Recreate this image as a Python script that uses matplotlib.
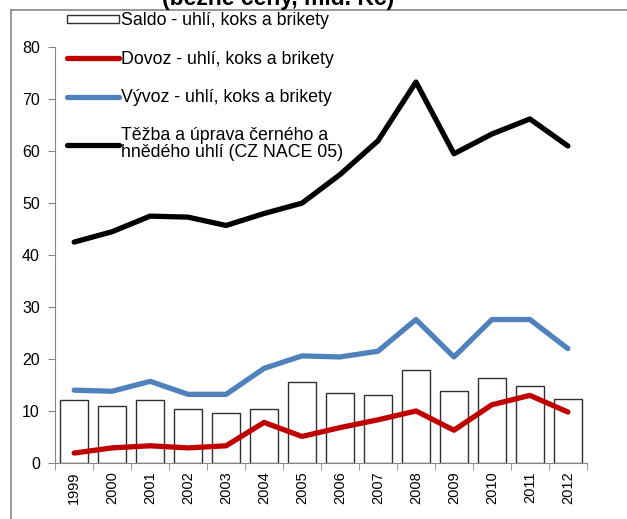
import numpy as np
import matplotlib.pyplot as plt
from matplotlib.lines import Line2D

plt.rcParams['font.family'] = ['Liberation Sans', 'DejaVu Sans']

# data
roky = ['1999', '2000', '2001', '2002', '2003', '2004', '2005', '2006',
        '2007', '2008', '2009', '2010', '2011', '2012']
saldo = [12.1, 10.9, 12.1, 10.4, 9.7, 10.4, 15.6, 13.4, 13.1, 17.8, 13.9, 16.3, 14.9, 12.4]
dovoz = [1.9, 2.9, 3.3, 2.9, 3.3, 7.8, 5.1, 6.8, 8.3, 10.0, 6.3, 11.2, 13.0, 9.8]
vyvoz = [14.0, 13.8, 15.7, 13.2, 13.2, 18.2, 20.6, 20.4, 21.5, 27.6, 20.4, 27.6, 27.6, 22.0]
tezba = [42.5, 44.5, 47.5, 47.3, 45.7, 48.0, 50.0, 55.5, 62.0, 73.3, 59.5, 63.3, 66.2, 61.0]

x = np.arange(len(roky))

fig = plt.figure(figsize=(6.27, 5.19), dpi=100)
ax = fig.add_axes([0.088, 0.108, 0.848, 0.801])

b = ax.bar(x, saldo, width=0.72, color='white', edgecolor='#303030', linewidth=1.0,
           label='Saldo - uhlí, koks a brikety', zorder=1)
l1, = ax.plot(x, dovoz, color='#c00000', lw=3.8, solid_capstyle='round',
              label='Dovoz - uhlí, koks a brikety', zorder=3)
l2, = ax.plot(x, vyvoz, color='#4f81bd', lw=3.8, solid_capstyle='round',
              label='Vývoz - uhlí, koks a brikety', zorder=3)
l3, = ax.plot(x, tezba, color='black', lw=3.8, solid_capstyle='round',
              label='Těžba a úprava černého a\nhnědého uhlí (CZ NACE 05)', zorder=3)

ax.set_xlim(-0.5, len(roky) - 0.5)
ax.set_ylim(0, 80)
ax.set_yticks(range(0, 81, 10))
ax.set_xticks(x)
ax.set_xticklabels(roky, rotation=90, fontsize=10.5)
ax.set_xticks(np.arange(-0.5, len(roky)), minor=True)
ax.tick_params(axis='x', which='major', length=0, pad=6)
ax.tick_params(axis='x', which='minor', length=5, color='#868686', direction='out')
ax.tick_params(axis='y', length=5, color='#868686', direction='out', labelsize=11.5, pad=6)

for s in ['top', 'right']:
    ax.spines[s].set_visible(False)
for s in ['left', 'bottom']:
    ax.spines[s].set_color('#868686')

leg = fig.legend([b, l1, l2, l3], [b.get_label(), l1.get_label(), l2.get_label(), l3.get_label()],
                 loc='upper left', bbox_to_anchor=(0.095, 0.99), frameon=False,
                 fontsize=12.8, handlelength=2.95, handleheight=0.35, handletextpad=0.1,
                 labelspacing=1.2, borderaxespad=0)
for t in leg.get_texts():
    t.set_linespacing(0.95)

# frame of the original chart area and cut off title
fig.add_artist(Line2D([11 / 627, 11 / 627], [0, 1 - 10 / 519], color='#868686', lw=1.2))
fig.add_artist(Line2D([11 / 627, 1], [1 - 10 / 519, 1 - 10 / 519], color='#868686', lw=1.2))
fig.text(278 / 627, 1 - 5 / 519, '(běžné ceny, mld. Kč)', ha='center', va='baseline',
         fontsize=16.5, fontweight='bold')

fig.savefig('out.png', dpi=100)
